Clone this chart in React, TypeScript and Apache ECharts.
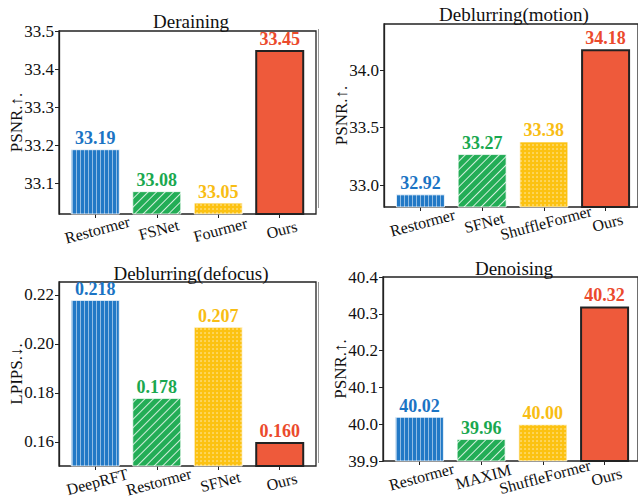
import React, { useEffect, useRef } from "react";
import * as echarts from "echarts";

const derainCats = ["Restormer", "FSNet", "Fourmer", "Ours"];
const derainVals = [33.19, 33.08, 33.05, 33.45];
const derainTicks = [33.1, 33.2, 33.3, 33.4, 33.5];

const motionCats = ["Restormer", "SFNet", "ShuffleFormer", "Ours"];
const motionVals = [32.92, 33.27, 33.38, 34.18];
const motionTicks = [33.0, 33.5, 34.0];

const defocusCats = ["DeepRFT", "Restormer", "SFNet", "Ours"];
const defocusVals = [0.218, 0.178, 0.207, 0.16];
const defocusTicks = [0.16, 0.18, 0.2, 0.22];

const denoiseCats = ["Restormer", "MAXIM", "ShuffleFormer", "Ours"];
const denoiseVals = [40.02, 39.96, 40.0, 40.32];
const denoiseTicks = [39.9, 40.0, 40.1, 40.2, 40.3, 40.4];

const titles = ["Deraining", "Deblurring(motion)", "Deblurring(defocus)", "Denoising"];
const yNames = ["PSNR.↑.", "PSNR.↑.", "LPIPS.↓.", "PSNR.↑."];

const FONT = "Liberation Serif";

const barColors = ["#2279c6", "#23ad56", "#fcc212", "#ee5a3b"];
const labelColors = ["#1b74c4", "#1aa84f", "#f8bd14", "#eb4a2c"];

const decals: any[] = [
  {
    symbol: "rect",
    symbolSize: 1,
    color: "rgba(255,255,255,0.5)",
    dashArrayX: [1, 2.7],
    dashArrayY: [6, 0],
  },
  {
    symbol: "rect",
    symbolSize: 1,
    color: "rgba(255,255,255,0.8)",
    dashArrayX: [6, 0],
    dashArrayY: [1, 4.5],
    rotation: -Math.PI / 4,
  },
  {
    symbol: "circle",
    symbolSize: 0.7,
    color: "rgba(255,255,255,0.75)",
    dashArrayX: [2, 2],
    dashArrayY: [2, 2],
  },
  null,
];

export default function App() {
  const ref = useRef<HTMLDivElement>(null);
  useEffect(() => {
    if (!ref.current) return;
    const chart = echarts.init(ref.current, null, { renderer: "svg" });

    const panels = [
      { cats: derainCats, vals: derainVals, ticks: derainTicks, min: 33.02, max: 33.5, dec: 2, tdec: 1,
        frame: { left: 59, top: 31, width: 257, height: 183 }, title: { x: 186, y: 7 } },
      { cats: motionCats, vals: motionVals, ticks: motionTicks, min: 32.81, max: 34.4, dec: 2, tdec: 1,
        frame: { left: 384, top: 24, width: 258, height: 183 }, title: { x: 509, y: 0 } },
      { cats: defocusCats, vals: defocusVals, ticks: defocusTicks, min: 0.1502, max: 0.2253, dec: 3, tdec: 2,
        frame: { left: 59, top: 282, width: 257, height: 184 }, title: { x: 186, y: 259 } },
      { cats: denoiseCats, vals: denoiseVals, ticks: denoiseTicks, min: 39.9, max: 40.4, dec: 2, tdec: 1,
        frame: { left: 383, top: 277, width: 258, height: 184 }, title: { x: 509, y: 254 } },
    ];
    // matplotlib-like x margins: bars of width 0.8 in xlim [-0.59, 3.59]
    const inner = panels.map((p) => {
      const band = p.frame.width / 4.18;
      const pad = 0.09 * band;
      return { pad, left: p.frame.left + pad, width: 4 * band, top: p.frame.top, height: p.frame.height };
    });

    const rs = (size: number) => ({
      fontFamily: FONT,
      fontSize: size,
      fontWeight: "normal",
      color: "#111",
    });

    const innerGrids = inner.map((g) => ({
      left: g.left, top: g.top, width: g.width, height: g.height, show: false,
    }));
    const frameGrids = panels.map((p) => ({
      ...p.frame, show: true, borderColor: "#222", borderWidth: 1.3, backgroundColor: "transparent",
    }));

    const option: any = {
      animation: false,
      backgroundColor: "#ffffff",
      textStyle: { fontFamily: FONT },
      title: panels.map((p, i) => ({
        text: titles[i],
        left: p.title.x,
        top: p.title.y,
        textAlign: "center",
        textStyle: rs(19),
      })),
      grid: [...innerGrids, ...frameGrids],
      xAxis: [
        ...panels.map((p, i) => ({
          type: "category",
          gridIndex: i,
          data: p.cats,
          axisLine: { show: false },
          axisTick: { show: true, interval: 0, alignWithLabel: true, length: 4, lineStyle: { color: "#222" } },
          axisLabel: {
            interval: 0,
            rotate: 15,
            align: "center",
            verticalAlign: "top",
            margin: 8,
            hideOverlap: false,
            ...rs(16),
          },
        })),
        ...panels.map((p, i) => ({ type: "value", gridIndex: 4 + i, show: false })),
      ],
      yAxis: [
        ...panels.map((p, i) => ({
          type: "value",
          gridIndex: i,
          min: p.min,
          max: p.max,
          offset: inner[i].pad,
          name: yNames[i],
          nameLocation: "middle",
          nameGap: 34,
          nameMoveOverlap: false,
          nameTextStyle: rs(17),
          splitLine: { show: false },
          axisLine: { show: true, onZero: false, lineStyle: { color: "#222", width: 1.3 } },
          axisTick: { show: true, length: 4, customValues: p.ticks, lineStyle: { color: "#222" } },
          axisLabel: {
            customValues: p.ticks,
            formatter: (v: number) => v.toFixed(p.tdec),
            margin: 5,
            ...rs(17),
          },
        })),
        ...panels.map((p, i) => ({ type: "value", gridIndex: 4 + i, show: false })),
      ],
      series: panels.map((p, i) => ({
        type: "bar",
        xAxisIndex: i,
        yAxisIndex: i,
        barWidth: 49,
        data: p.vals.map((v, j) => ({
          value: v,
          itemStyle: {
            color: barColors[j],
            borderColor: j === 3 ? "#222" : "rgba(255,255,255,0.45)",
            borderWidth: j === 3 ? 2 : 1,
            decal: decals[j] || undefined,
          },
          label: { color: labelColors[j] },
        })),
        label: {
          show: true,
          position: "top",
          distance: 2,
          fontFamily: FONT,
          fontSize: 18,
          fontWeight: "bold",
          formatter: (d: any) => Number(d.value).toFixed(p.dec),
        },
      })),
      graphic: [
        { type: "line", shape: { x1: 318.5, y1: 29, x2: 318.5, y2: 208 }, style: { stroke: "#999", lineWidth: 1 } },
        { type: "line", shape: { x1: 318.5, y1: 282, x2: 318.5, y2: 463 }, style: { stroke: "#999", lineWidth: 1 } },
      ],
    };
    chart.setOption(option);
    return () => chart.dispose();
  }, []);
  return (
    <div
      ref={ref}
      style={{ position: "fixed", left: 0, top: 0, width: 638, height: 502, background: "#fff" }}
    />
  );
}
